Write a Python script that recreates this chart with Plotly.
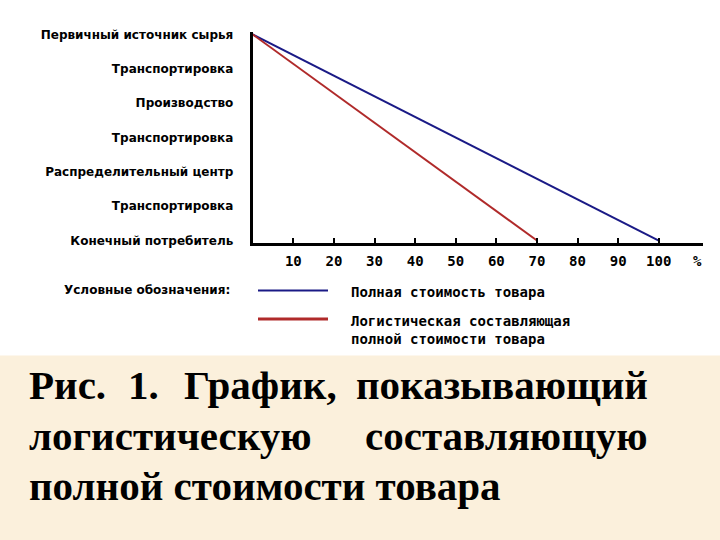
import plotly.graph_objects as go

W, H = 720, 540

# ---- data ----
stages = ["Первичный источник сырья", "Транспортировка", "Производство", "Транспортировка",
          "Распределительный центр", "Транспортировка", "Конечный потребитель"]
stage_idx = list(range(len(stages)))
total_cost_x = [0, 100]        # полная стоимость товара, % (от начала до конца цепи)
logistics_x = [0, 70]          # логистическая составляющая, %
end_stages = [0, 6]            # индексы начального и конечного этапов
x_ticks = [10, 20, 30, 40, 50, 60, 70, 80, 90, 100]
legend_title = "Условные обозначения:"
legend_labels = ["Полная стоимость товара", "Логистическая составляющая<br>полной стоимости товара"]
caption_line1 = ["Рис.", "1.", "График,", "показывающий"]
caption_line2 = ["логистическую", "составляющую"]
caption_line3 = "полной стоимости товара"

BLUE = "#1a1a86"
RED = "#b02a2a"

def px_x(p):
    return p / W

def px_y(p):
    return 1 - p / H

fig = go.Figure()
fig.add_trace(go.Scatter(x=total_cost_x, y=[stage_idx[i] for i in end_stages], mode="lines",
                         line=dict(color=BLUE, width=2), name=legend_labels[0], showlegend=False))
fig.add_trace(go.Scatter(x=logistics_x, y=[stage_idx[i] for i in end_stages], mode="lines",
                         line=dict(color=RED, width=2), name="Логистическая составляющая", showlegend=False))

label_font = dict(family="DejaVu Sans", size=12, color="black", weight="bold")
mono_font = dict(family="DejaVu Sans Mono", size=14, color="black", weight="bold")

fig.update_layout(
    width=W, height=H,
    margin=dict(l=0, r=0, t=0, b=0),
    paper_bgcolor="white", plot_bgcolor="white",
    xaxis=dict(domain=[252.7 / W, 703 / W], range=[0, 110.9], showgrid=False, zeroline=False,
               showline=True, linecolor="black", linewidth=3,
               tickvals=x_ticks, ticks="inside", ticklen=5, tickwidth=2, tickcolor="black",
               tickfont=mono_font, ticklabelstandoff=4),
    yaxis=dict(domain=[px_y(242), px_y(28)], range=[6.057, -0.057], showgrid=False, zeroline=False,
               showline=True, linecolor="black", linewidth=3,
               tickvals=stage_idx, ticktext=stages, ticks="", tickfont=label_font,
               ticklabelstandoff=14),
)

shapes = [
    dict(type="rect", xref="paper", yref="paper", x0=0, x1=1, y0=-0.02, y1=px_y(357),
         fillcolor="#fbf0dc", line=dict(width=0), layer="below"),
    dict(type="line", xref="paper", yref="paper", x0=px_x(258), x1=px_x(328), y0=px_y(291), y1=px_y(291),
         line=dict(color=BLUE, width=2)),
    dict(type="line", xref="paper", yref="paper", x0=px_x(258), x1=px_x(328), y0=px_y(320), y1=px_y(320),
         line=dict(color=RED, width=3)),
]
fig.update_layout(shapes=shapes)

ann = []
def add_text(text, x, y, font, xanchor="left", yanchor="middle", align="left"):
    ann.append(dict(text=text, x=px_x(x), y=px_y(y), xref="paper", yref="paper", showarrow=False,
                    font=font, xanchor=xanchor, yanchor=yanchor, align=align))

add_text("%", 697, 261, mono_font, xanchor="center")
add_text(legend_title, 232, 290, label_font, xanchor="right")
leg_font = dict(family="DejaVu Sans Mono", size=14, color="black", weight="bold")
add_text(legend_labels[0], 349, 292, leg_font)
add_text(legend_labels[1], 349, 331, leg_font, yanchor="middle")

cap_font = dict(family="Liberation Serif", size=41, color="black", weight="bold")
# line 1 (justified)
add_text(caption_line1[0], 27, 387, cap_font)
add_text(caption_line1[1], 126, 387, cap_font)
add_text(caption_line1[2], 182, 387, cap_font)
add_text(caption_line1[3], 650, 387, cap_font, xanchor="right")
# line 2
add_text(caption_line2[0], 27, 439, cap_font)
add_text(caption_line2[1], 650, 439, cap_font, xanchor="right")
# line 3
add_text(caption_line3, 27, 490, cap_font)

fig.update_layout(annotations=ann)
fig.write_html("out.html", config={"displayModeBar": False},
               post_script="document.body.style.margin='0';document.body.style.overflow='hidden';")
